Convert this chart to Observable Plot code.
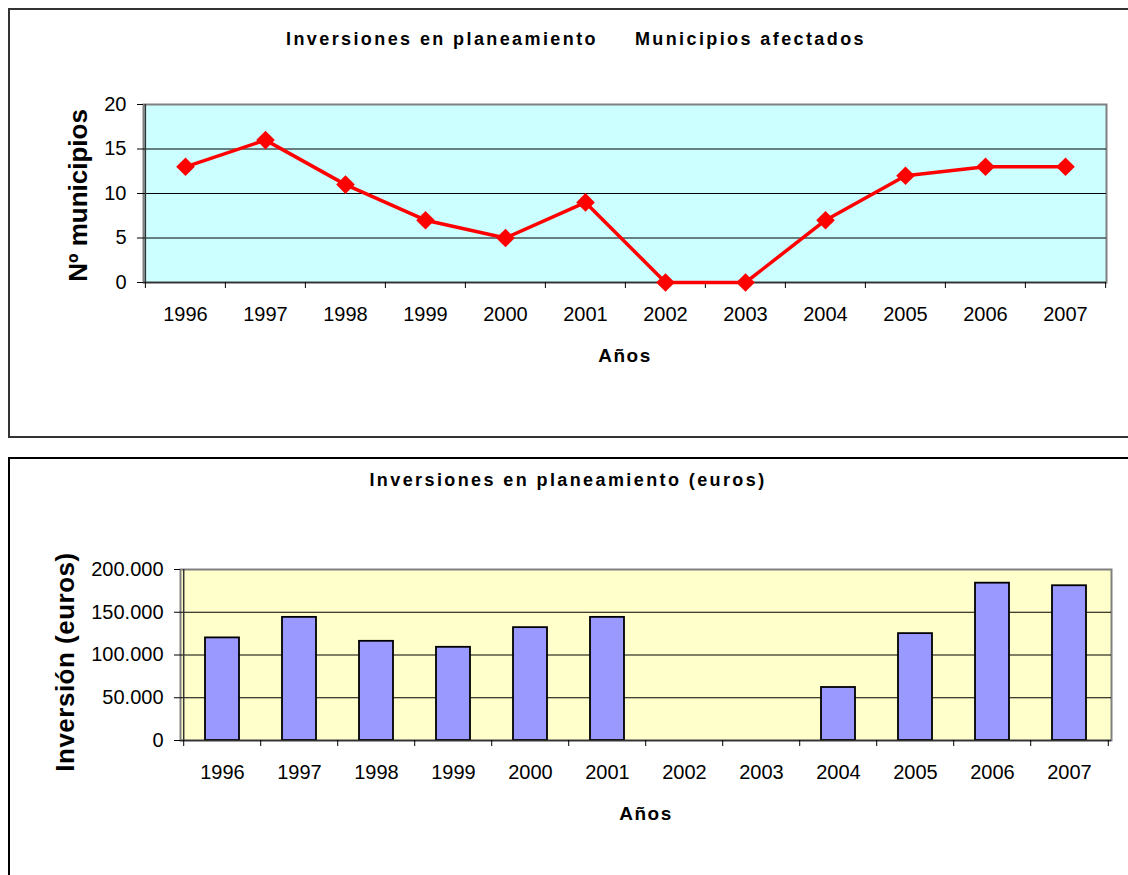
<!DOCTYPE html>
<html><head><meta charset="utf-8">
<script src="https://cdn.jsdelivr.net/npm/d3@7"></script>
<script src="https://cdn.jsdelivr.net/npm/@observablehq/plot@0.6"></script>
<style>
html,body{margin:0;padding:0;background:#fff;}
body{width:1128px;height:875px;overflow:hidden;position:relative;font-family:"Liberation Sans",Arial,sans-serif;color:#000;}
.box{position:absolute;box-sizing:border-box;}
#box1{left:8px;top:8px;width:1140px;height:430px;border:2px solid #333;}
#box2{left:8px;top:457px;width:1140px;height:440px;border:2px solid #000;}
.title{position:absolute;font-weight:bold;font-size:18px;letter-spacing:2.4px;white-space:pre;transform:translate(-50%,-50%);}
.chart{position:absolute;left:0;}
</style></head><body>
<div class="box" id="box1"></div>
<div class="box" id="box2"></div>
<div id="c1" class="chart" style="top:0px"></div>
<div id="c2" class="chart" style="top:457px"></div>
<div id="t1" class="title" style="left:576px;top:39px"></div>
<div id="t2" class="title" style="left:568px;top:480px"></div>
<script>
const years = [1996, 1997, 1998, 1999, 2000, 2001, 2002, 2003, 2004, 2005, 2006, 2007];
const municipios = [13, 16, 11, 7, 5, 9, 0, 0, 7, 12, 13, 13];
const inversion = [120000, 144000, 116000, 109000, 132000, 144000, 0, 0, 62000, 125000, 184000, 181000];
const yTicks1 = [0, 5, 10, 15, 20];
const yTicks2 = [0, 50000, 100000, 150000, 200000];
const title1 = "Inversiones en planeamiento     Municipios afectados";
const title2 = "Inversiones en planeamiento (euros)";
const xLabel = "Años";
const yLabel1 = "Nº municipios";
const yLabel2 = "Inversión (euros)";

document.getElementById("t1").textContent = title1;
document.getElementById("t2").textContent = title2;

const esFormat = d3.formatLocale({decimal: ",", thousands: ".", grouping: [3], currency: ["", " €"]}).format(",");
const yearFormat = d => String(d);
const W = 1128;
const font = "Liberation Sans, Arial, sans-serif";

// Chart 1: line
const m1 = {top: 104, right: 22, bottom: 155, left: 143};
const H1 = 437;
const step1 = (W - m1.left - m1.right) / years.length;
const data1 = years.map((y, i) => ({year: y, value: municipios[i]}));
const chart1 = Plot.plot({
  width: W, height: H1,
  marginTop: m1.top, marginRight: m1.right, marginBottom: m1.bottom, marginLeft: m1.left,
  style: {background: "transparent", fontFamily: font, fontSize: "20px", color: "#000", overflow: "visible"},
  x: {type: "band", domain: years, padding: 0, label: null},
  y: {domain: [0, 20], label: null},
  marks: [
    Plot.frame({fill: "#CCFFFF", stroke: "#808080", strokeWidth: 2}),
    Plot.ruleY(yTicks1.slice(1, -1), {stroke: "#000", strokeWidth: 1}),
    Plot.ruleY([0], {stroke: "#333", strokeWidth: 1.5}),
    Plot.ruleX([years[0]], {dx: -step1 / 2, stroke: "#333", strokeWidth: 1.5}),
    Plot.axisY({ticks: yTicks1, tickSize: 6, tickPadding: 11, fontSize: 20, label: null}),
    Plot.axisX({tickSize: 6, tickFormat: () => "", dx: -step1 / 2, label: null}),
    Plot.axisX({ticks: [years[years.length - 1]], tickSize: 6, tickFormat: () => "", dx: step1 / 2, label: null}),
    Plot.axisX({tickSize: 0, tickPadding: 24, fontSize: 20, tickFormat: yearFormat, label: null}),
    Plot.line(data1, {x: "year", y: "value", stroke: "#FF0000", strokeWidth: 3.5}),
    Plot.dot(data1, {x: "year", y: "value", symbol: "diamond2", r: 8.4, fill: "#FF0000", stroke: "none"}),
    Plot.text([yLabel1], {text: d => d, frameAnchor: "left", textAnchor: "middle", lineAnchor: "middle", rotate: -90, dx: -65, dy: 2, fontSize: 26, fontWeight: "bold"}),
    Plot.text([xLabel], {text: d => d, frameAnchor: "bottom", textAnchor: "middle", lineAnchor: "middle", dy: 73, fontSize: 19, fontWeight: "bold"})
  ]
});
document.getElementById("c1").appendChild(chart1);

// Chart 2: bars
const m2 = {top: 112, right: 17, bottom: 135, left: 180};
const H2 = 418;
const step2 = (W - m2.left - m2.right) / years.length;
const data2 = years.map((y, i) => ({year: y, value: inversion[i]}));
const chart2 = Plot.plot({
  width: W, height: H2,
  marginTop: m2.top, marginRight: m2.right, marginBottom: m2.bottom, marginLeft: m2.left,
  style: {background: "transparent", fontFamily: font, fontSize: "20px", color: "#000", overflow: "visible"},
  x: {type: "band", domain: years, paddingInner: 0.56, paddingOuter: 0.28, label: null},
  y: {domain: [0, 200000], label: null},
  marks: [
    Plot.frame({fill: "#FFFFCC", stroke: "#808080", strokeWidth: 2}),
    Plot.ruleY(yTicks2.slice(1, -1), {stroke: "#000", strokeWidth: 1}),
    Plot.barY(data2.filter(d => d.value > 0), {x: "year", y: "value", fill: "#9999FF", stroke: "#000", strokeWidth: 1.8}),
    Plot.ruleY([0], {stroke: "#333", strokeWidth: 1.5}),
    Plot.ruleX([years[0]], {dx: -step2 / 2, stroke: "#333", strokeWidth: 1.5}),
    Plot.axisY({ticks: yTicks2, tickFormat: esFormat, tickSize: 6, tickPadding: 11, fontSize: 20, label: null}),
    Plot.axisX({tickSize: 6, tickFormat: () => "", dx: -step2 / 2, label: null}),
    Plot.axisX({ticks: [years[years.length - 1]], tickSize: 6, tickFormat: () => "", dx: step2 / 2, label: null}),
    Plot.axisX({tickSize: 0, tickPadding: 24, fontSize: 20, tickFormat: yearFormat, label: null}),
    Plot.text([yLabel2], {text: d => d, frameAnchor: "left", textAnchor: "middle", lineAnchor: "middle", rotate: -90, dx: -115, dy: 7, fontSize: 26, fontWeight: "bold"}),
    Plot.text([xLabel], {text: d => d, frameAnchor: "bottom", textAnchor: "middle", lineAnchor: "middle", dy: 73, fontSize: 19, fontWeight: "bold"})
  ]
});
document.getElementById("c2").appendChild(chart2);

// letter spacing for bold labels
for (const svg of [chart1, chart2]) {
  d3.select(svg).selectAll("text").each(function() {
    const t = this.textContent;
    if (t === xLabel) this.setAttribute("letter-spacing", "1.5");
    if (t === yLabel2) this.setAttribute("letter-spacing", "0.5");
  });
}
</script>
</body></html>
